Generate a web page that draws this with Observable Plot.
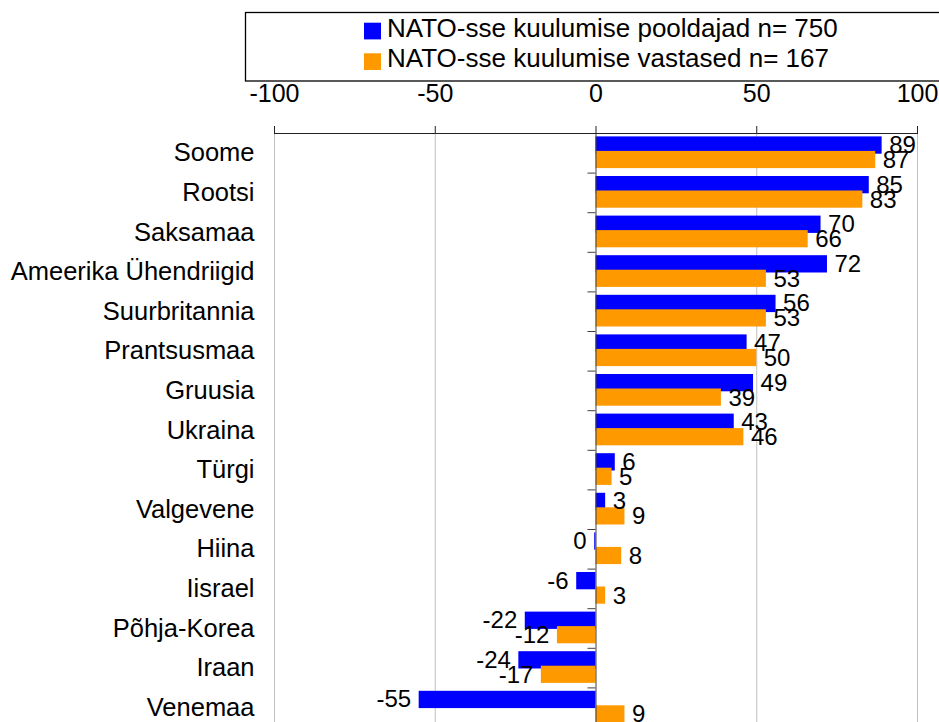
<!DOCTYPE html>
<html>
<head>
<meta charset="utf-8">
<script src="https://cdn.jsdelivr.net/npm/d3@7"></script>
<script src="https://cdn.jsdelivr.net/npm/@observablehq/plot@0.6"></script>
<style>
  html, body { margin: 0; padding: 0; background: #fff; overflow: hidden; }
  #legend { display: block; position: relative; z-index: 1; overflow: visible; }
  #chart svg { display: block; }
</style>
</head>
<body>
<svg id="legend" width="939" height="76"></svg>
<div id="chart"></div>
<script>
const countries = ["Soome","Rootsi","Saksamaa","Ameerika Ühendriigid","Suurbritannia","Prantsusmaa","Gruusia","Ukraina","Türgi","Valgevene","Hiina","Iisrael","Põhja-Korea","Iraan","Venemaa"];
const pooldajad = [89, 85, 70, 72, 56, 47, 49, 43, 6, 3, -0.4, -6, -22, -24, -55];
const vastased  = [87, 83, 66, 53, 53, 50, 39, 46, 5, 9, 8, 3, -12, -17, 9];
const xTicks = [-100, -50, 0, 50, 100];
const seriesNames = ["NATO-sse kuulumise pooldajad n= 750", "NATO-sse kuulumise vastased n= 167"];
const seriesColors = ["#0000FF", "#FF9900"];

const FONT = "'Liberation Sans', Arial, Helvetica, sans-serif";

// Legend (above the plot)
const lg = d3.select("#legend");
lg.append("rect").attr("x", 245.5).attr("y", 12.5).attr("width", 720).attr("height", 68.5)
  .attr("fill", "none").attr("stroke", "#000").attr("stroke-width", 1.3);
seriesNames.forEach((name, i) => {
  const top = 22.7 + i * 30.6;
  lg.append("rect").attr("x", 364).attr("y", top).attr("width", 17).attr("height", 16.7).attr("fill", seriesColors[i]);
  lg.append("text").attr("x", 387).attr("y", 37.3 + i * 29.4).attr("font-family", FONT).attr("font-size", 26)
    .attr("fill", "#000").text(name);
});

// Plot
const width = 939, height = 651, marginTop = 57, marginBottom = 0;
const step = (height - marginTop - marginBottom) / countries.length;
const blue = countries.map((c, i) => ({country: c, value: pooldajad[i]}));
const orange = countries.map((c, i) => ({country: c, value: vastased[i]}));
const lbl = d => String(Math.round(d.value));

const labelMarks = (rows, dy) => [
  Plot.text(rows.filter(d => d.value >= 0), {x: "value", y: "country", text: lbl, dy, dx: 7, textAnchor: "start", fontSize: 24, fill: "#000"}),
  Plot.text(rows.filter(d => d.value < 0), {x: "value", y: "country", text: lbl, dy, dx: -8, textAnchor: "end", fontSize: 24, fill: "#000"})
];

const chart = Plot.plot({
  width, height, marginTop, marginBottom, marginLeft: 274, marginRight: 22,
  style: {fontFamily: FONT, fontSize: "24px", color: "#000", background: "transparent"},
  x: {domain: [-100, 100]},
  y: {domain: countries, padding: 0, round: false},
  marks: [
    Plot.gridX(xTicks.filter(d => d !== 0), {stroke: "#c0c0c0", strokeOpacity: 1}),
    Plot.barX(blue, {x: "value", y: "country", fill: seriesColors[0], insetTop: 3.4, insetBottom: step - 20.7}),
    Plot.barX(orange, {x: "value", y: "country", fill: seriesColors[1], insetTop: 17.9, insetBottom: step - 35.1}),
    Plot.ruleX([0], {stroke: "#404040"}),
    Plot.ruleY(countries, {y: d => d, x1: -2.5, x2: 0, dy: -step / 2, stroke: "#404040"}),
    Plot.ruleY([countries[0]], {y: d => d, x1: -100, x2: 100, dy: -step / 2, stroke: "#222"}),
    Plot.axisX({anchor: "top", ticks: xTicks, tickFormat: d => String(d), tickSize: 8, tickPadding: 24, fontSize: 25, label: null, stroke: "#222"}),
    Plot.axisY({anchor: "left", tickSize: 0, tickPadding: 20, fontSize: 25.5, label: null}),
    ...labelMarks(blue, -8),
    ...labelMarks(orange, 7)
  ]
});
document.getElementById("chart").append(chart);
</script>
</body>
</html>
